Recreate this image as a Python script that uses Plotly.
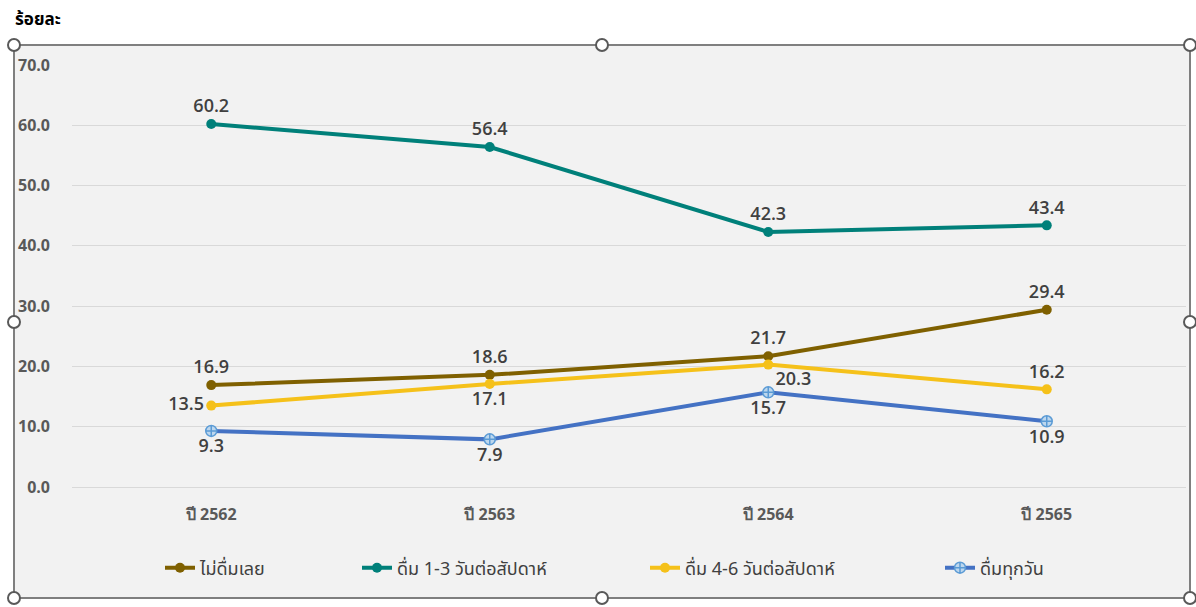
import plotly.graph_objects as go

categories = ["ปี 2562", "ปี 2563", "ปี 2564", "ปี 2565"]
series_names = ["ไม่ดื่มเลย", "ดื่ม 1-3 วันต่อสัปดาห์", "ดื่ม 4-6 วันต่อสัปดาห์", "ดื่มทุกวัน"]
never = [16.9, 18.6, 21.7, 29.4]
d_1_3 = [60.2, 56.4, 42.3, 43.4]
d_4_6 = [13.5, 17.1, 20.3, 16.2]
daily = [9.3, 7.9, 15.7, 10.9]
y_ticks = [0, 10, 20, 30, 40, 50, 60, 70]
y_title = "ร้อยละ"

W, H = 1196, 607
L, R, T, B = 72, 10, 65, 120
PW, PH = W - L - R, H - T - B

def px(x):
    return (x - L) / PW

def py(y):
    return (H - B - y) / PH

colors = ["#7f6000", "#00807a", "#f5c11a", "#4472c4"]
values = [never, d_1_3, d_4_6, daily]
positions = [
    ["top center"] * 4,
    ["top center"] * 4,
    ["middle left", "bottom center", "bottom right", "top center"],
    ["bottom center"] * 4,
]
legend_ids = ["legend", "legend2", "legend3", "legend4"]
legend_x = [160, 357, 645, 940]

FONT = "Noto Sans Thai, Noto Sans, Open Sans, sans-serif"
NUMFONT = "Open Sans, Noto Sans, sans-serif"

fig = go.Figure()
for i in range(4):
    marker = dict(size=10, color=colors[i])
    if i == 3:
        marker = dict(size=11, color="#bdd7ee", symbol="circle-cross",
                      line=dict(color="#5b9bd5", width=1.5))
    fig.add_trace(go.Scatter(
        x=categories, y=values[i], name=series_names[i],
        mode="lines+markers+text",
        line=dict(color=colors[i], width=4),
        marker=marker,
        text=[f"{v:.1f}" for v in values[i]],
        textposition=positions[i],
        textfont=dict(size=18, color="#404040", family=NUMFONT, weight=600),
        legend=legend_ids[i],
        cliponaxis=False,
    ))

legend_common = dict(orientation="h", xanchor="left", yanchor="middle",
                     font=dict(size=18, color="#404040", family=FONT),
                     bgcolor="rgba(0,0,0,0)")
layout_legends = {}
for i, lid in enumerate(legend_ids):
    layout_legends[lid] = dict(legend_common, x=px(legend_x[i]), y=py(568))

shapes = [dict(type="rect", xref="paper", yref="paper",
               x0=px(14), x1=px(1190), y0=py(598), y1=py(45),
               fillcolor="#f2f2f2", line=dict(color="#7f7f7f", width=2),
               layer="below")]
for hx, hy in [(14, 45), (602, 45), (1190, 45), (14, 322), (1190, 322),
               (14, 598), (602, 598), (1190, 598)]:
    shapes.append(dict(type="circle", xref="paper", yref="paper",
                       xsizemode="pixel", ysizemode="pixel",
                       xanchor=px(hx), yanchor=py(hy),
                       x0=-6, x1=6, y0=-6, y1=6,
                       fillcolor="white", line=dict(color="#595959", width=2),
                       layer="above"))

fig.update_layout(
    width=W, height=H,
    margin=dict(l=L, r=R, t=T, b=B),
    paper_bgcolor="white",
    plot_bgcolor="rgba(0,0,0,0)",
    showlegend=True,
    shapes=shapes,
    annotations=[dict(text=f"<b>{y_title}</b>", xref="paper", yref="paper",
                      x=px(13), y=py(20), xanchor="left", yanchor="middle",
                      showarrow=False,
                      font=dict(size=17, color="black", family=FONT))],
    **layout_legends,
)
fig.update_xaxes(range=[-0.5, 3.5], showgrid=False, showline=False, zeroline=False,
                 ticks="", ticklabelstandoff=16,
                 tickfont=dict(size=16, color="#595959", family=NUMFONT, weight="bold"))
fig.update_yaxes(range=[0, 70], tickvals=y_ticks, tickformat=".1f",
                 showgrid=True, gridcolor="#d9d9d9", gridwidth=1,
                 zeroline=True, zerolinecolor="#d9d9d9", zerolinewidth=1,
                 showline=False, ticks="", ticklabelstandoff=21,
                 tickfont=dict(size=16, color="#595959", family=NUMFONT, weight="bold"))

fig.write_html("out.html")
